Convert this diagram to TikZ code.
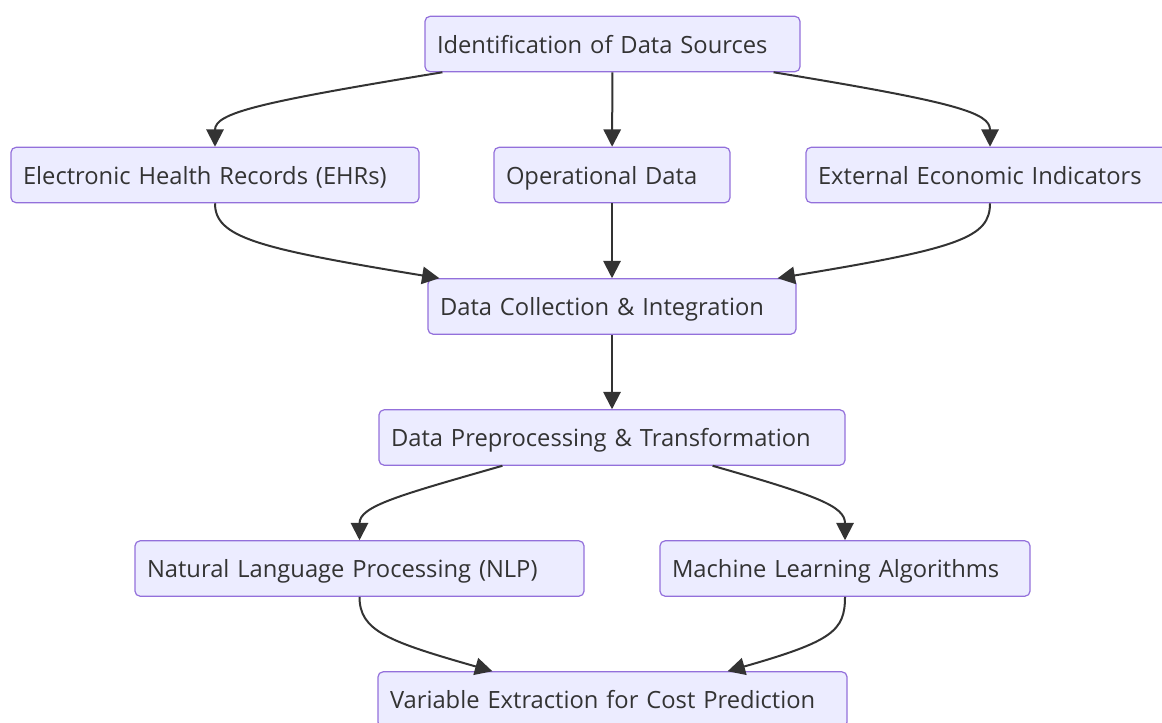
\documentclass[tikz,border=0pt]{standalone}
\usepackage{fontspec}
\setmainfont{Open Sans}
\usepackage{tikz}
\usetikzlibrary{calc}
\usetikzlibrary{arrows.meta}
\definecolor{boxfill}{HTML}{ECECFF}
\definecolor{boxline}{HTML}{9370DB}
\definecolor{linec}{HTML}{333333}
\tikzset{
  box/.style={draw=boxline,fill=boxfill,line width=0.9pt,rounded corners=3.75pt,
    text=linec,inner xsep=9pt,inner ysep=0pt,minimum height=41.5pt,
    text height=16.5pt,text depth=3pt,
    text width={(#1-24)*0.75pt},align=left,font=\fontsize{17.8}{20}\selectfont},
  flow/.style={draw=linec,line width=1.5pt,->}
}
\begin{document}
\begin{tikzpicture}[>={Triangle[length=13pt,width=13pt]},x=0.75pt,y=-0.75pt]
          \useasboundingbox (0,0) rectangle (1162,722);
          \node[box=375] (ident) at (612.5,44) {Identification of Data Sources};
          \node[box=408] (ehr) at (215,175) {Electronic Health Records (EHRs)};
          \node[box=236] (oper) at (612,175) {Operational Data};
          \node[box=368] (ext) at (990,175) {External Economic Indicators};
          \node[box=368] (collect) at (612,306.5) {Data Collection \& Integration};
          \node[box=466] (prep) at (612,437.5) {Data Preprocessing \& Transformation};
          \node[box=449] (nlp) at (359.5,568.5) {Natural Language Processing (NLP)};
          \node[box=370] (ml) at (845,568.5) {Machine Learning Algorithms};
          \node[box=469] (var) at (612.5,699.5) {Variable Extraction for Cost Prediction};

          \draw[flow] ($(ident.south west)+(18,0)$) .. controls +(-183,30) and +(0,-34) .. (ehr.north);
          \draw[flow] (ident) -- (oper);
          \draw[flow] ($(ident.south east)+(-27,0)$) .. controls +(183,30) and +(0,-34) .. (ext.north);

          \draw[flow] (ehr.south) .. controls +(0,34) and +(-183,-30) .. ($(collect.north west)+(12,0)$);
          \draw[flow] (oper) -- (collect);
          \draw[flow] (ext.south) .. controls +(0,34) and +(183,-30) .. ($(collect.north east)+(-19,0)$);

          \draw[flow] (collect) -- (prep);
          \draw[flow] ($(prep.south west)+(124,0)$) .. controls +(-105,30) and +(0,-34) .. (nlp.north);
          \draw[flow] ($(prep.south east)+(-133,0)$) .. controls +(105,30) and +(0,-34) .. (ml.north);

          \draw[flow] (nlp.south) .. controls +(0,34) and +(-105,-30) .. ($(var.north west)+(115,0)$);
          \draw[flow] (ml.south) .. controls +(0,34) and +(105,-30) .. ($(var.north east)+(-120,0)$);
        \end{tikzpicture}
\end{document}
